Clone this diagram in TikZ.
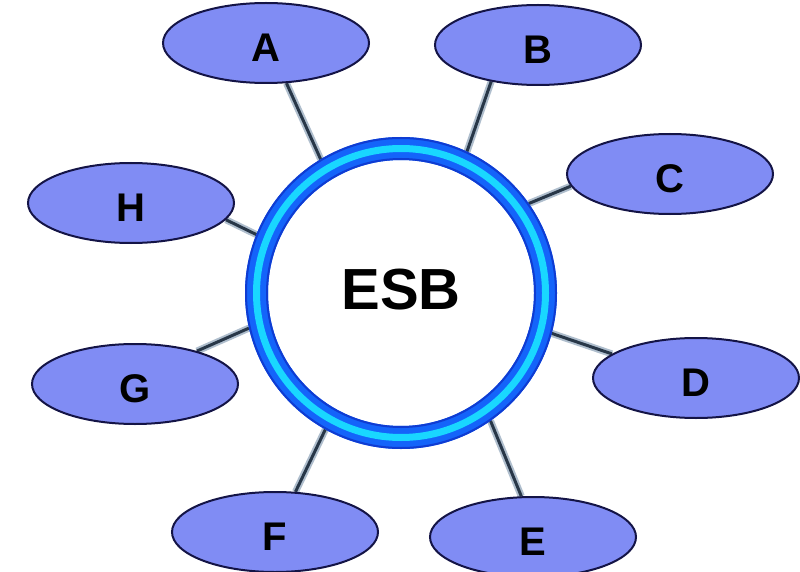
\documentclass[tikz,border=0pt]{standalone}
\usepackage{fontspec}
\setmainfont{Liberation Sans}
\usetikzlibrary{shapes.geometric,backgrounds}
\definecolor{ringblue}{RGB}{20,100,250}
\definecolor{ringdark}{RGB}{15,60,210}
\definecolor{ringcyan}{RGB}{25,215,255}
\definecolor{ellfill}{RGB}{128,140,244}
\definecolor{elldraw}{RGB}{20,20,70}
\definecolor{linkdark}{RGB}{40,55,72}
\definecolor{linkshade}{RGB}{175,190,205}
\tikzset{
  sat/.style={ellipse, draw=elldraw, fill=ellfill, line width=2pt,
    minimum width=206pt, minimum height=80pt, inner sep=0pt,
    text height=37pt, text depth=0pt,
    font=\fontsize{40}{40}\selectfont\bfseries},
  hub/.style={circle, draw=ringblue, line width=23pt, fill=white,
    minimum size=289pt, inner sep=0pt,
    text height=32pt, text depth=0pt,
    font=\fontsize{58}{58}\selectfont\bfseries},
  linkshadow/.style={draw=linkshade, line width=7pt},
  linkcore/.style={draw=linkdark, line width=3pt}
}
\begin{document}
\begin{tikzpicture}[x=1pt,y=-1pt]
\begin{pgfonlayer}{background}
\fill[white] (0,0) rectangle (800,572);
\end{pgfonlayer}
\useasboundingbox (0,0) rectangle (800,572);
\node[hub] (esb) at (401,293) {ESB};
\draw[ringdark, line width=2pt] (esb.center) circle[radius=155];
\draw[ringdark, line width=2pt] (esb.center) circle[radius=134];
\draw[ringcyan, line width=7pt] (esb.center) circle[radius=144.5];
\node[sat] (A) at (266,43) {A};
\node[sat] (B) at (538,45) {B};
\node[sat] (C) at (670,174) {C};
\node[sat] (D) at (696,378) {D};
\node[sat] (E) at (533,537) {E};
\node[sat] (F) at (275,532) {F};
\node[sat] (G) at (135,384) {G};
\node[sat] (H) at (131,203) {H};
\begin{pgfonlayer}{background}
\foreach \s/\sa/\ea in {A/-63/121, B/-142/65, C/-173/35, D/164/-15,
                        E/106/-55, F/63/-119, G/28/-167, H/-10/158}{
  \draw[linkshadow] (\s.\sa) -- (esb.\ea);
  \draw[linkcore] (\s.\sa) -- (esb.\ea);
}
\end{pgfonlayer}
\end{tikzpicture}
\end{document}
